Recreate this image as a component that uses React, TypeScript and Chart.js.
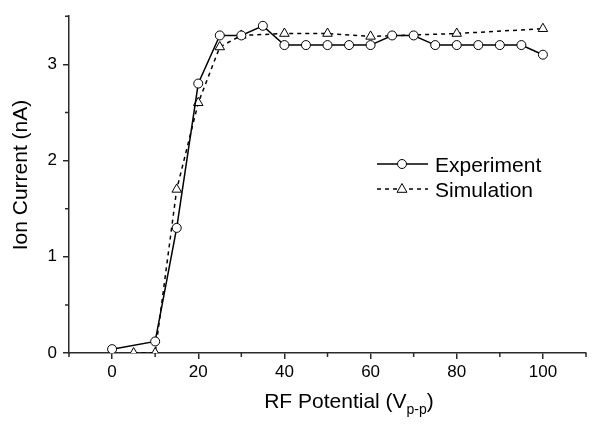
import React, { useEffect, useRef } from "react";
import { Chart, registerables } from "chart.js";

Chart.register(...registerables);

const expX = [0, 10, 15, 20, 25, 30, 35, 40, 45, 50, 55, 60, 65, 70, 75, 80, 85, 90, 95, 100];
const expY = [0.04, 0.12, 1.3, 2.8, 3.3, 3.3, 3.4, 3.2, 3.2, 3.2, 3.2, 3.2, 3.3, 3.3, 3.2, 3.2, 3.2, 3.2, 3.2, 3.1];
const simX = [5, 10, 15, 20, 25, 30, 40, 50, 60, 80, 100];
const simY = [0, 0, 1.7, 2.6, 3.18, 3.3, 3.32, 3.32, 3.29, 3.32, 3.37];
const xMajorTicks = [0, 20, 40, 60, 80, 100];
const yMajorTicks = [0, 1, 2, 3];
const xMinorTicks = [-10, 10, 30, 50, 70, 90, 110];
const yMinorTicks = [0.5, 1.5, 2.5, 3.5];
const seriesNames = ["Experiment", "Simulation"];
const xTitleMain = "RF Potential (V";
const xTitleSub = "p-p";
const xTitleEnd = ")";
const yTitle = "Ion Current (nA)";

const FONT = "'Liberation Sans', Arial, sans-serif";
const AXIS = "#2a2a2a";

const decorPlugin = {
  id: "decor",
  afterDraw(chart: any) {
    const ctx = chart.ctx;
    const xs = chart.scales.x;
    const ys = chart.scales.y;
    const area = chart.chartArea;
    ctx.save();
    // minor ticks
    ctx.strokeStyle = AXIS;
    ctx.lineWidth = 1.5;
    ctx.beginPath();
    xMinorTicks.forEach((v) => {
      const px = xs.getPixelForValue(v);
      ctx.moveTo(px, area.bottom);
      ctx.lineTo(px, area.bottom + 4);
    });
    yMinorTicks.forEach((v) => {
      const py = ys.getPixelForValue(v);
      ctx.moveTo(area.left, py);
      ctx.lineTo(area.left - 4, py);
    });
    ctx.stroke();

    // y title
    ctx.fillStyle = "#000";
    ctx.font = `21px ${FONT}`;
    ctx.save();
    ctx.translate(27, 175);
    ctx.rotate(-Math.PI / 2);
    ctx.textAlign = "center";
    ctx.textBaseline = "alphabetic";
    ctx.fillText(yTitle, 0, 0);
    ctx.restore();

    // x title with subscript
    ctx.textAlign = "left";
    ctx.textBaseline = "alphabetic";
    ctx.font = `21px ${FONT}`;
    const w1 = ctx.measureText(xTitleMain).width;
    const w3 = ctx.measureText(xTitleEnd).width;
    ctx.font = `14px ${FONT}`;
    const w2 = ctx.measureText(xTitleSub).width;
    const total = w1 + w2 + w3;
    let sx = 349 - total / 2;
    const base = 408;
    ctx.font = `21px ${FONT}`;
    ctx.fillText(xTitleMain, sx, base);
    sx += w1;
    ctx.font = `14px ${FONT}`;
    ctx.fillText(xTitleSub, sx, base + 6);
    sx += w2;
    ctx.font = `21px ${FONT}`;
    ctx.fillText(xTitleEnd, sx, base);

    // legend
    const lx0 = 377, lx1 = 428, mx = 402;
    const rows = [164, 189];
    ctx.strokeStyle = "#000";
    ctx.lineWidth = 1.5;
    ctx.setLineDash([]);
    ctx.beginPath();
    ctx.moveTo(lx0, rows[0]);
    ctx.lineTo(lx1, rows[0]);
    ctx.stroke();
    ctx.lineWidth = 1;
    ctx.fillStyle = "#fff";
    ctx.beginPath();
    ctx.arc(mx, rows[0], 4.5, 0, Math.PI * 2);
    ctx.fill();
    ctx.stroke();
    ctx.lineWidth = 1.5;
    ctx.setLineDash([4, 4]);
    ctx.beginPath();
    ctx.moveTo(lx0, rows[1]);
    ctx.lineTo(lx1, rows[1]);
    ctx.stroke();
    ctx.setLineDash([]);
    ctx.lineWidth = 1;
    ctx.fillStyle = "#fff";
    const r = 5.5;
    ctx.beginPath();
    ctx.moveTo(mx, rows[1] - r);
    ctx.lineTo(mx + r * 0.9, rows[1] + r * 0.6);
    ctx.lineTo(mx - r * 0.9, rows[1] + r * 0.6);
    ctx.closePath();
    ctx.fill();
    ctx.stroke();
    ctx.fillStyle = "#000";
    ctx.font = `21px ${FONT}`;
    ctx.textBaseline = "alphabetic";
    ctx.fillText(seriesNames[0], 435, 172);
    ctx.fillText(seriesNames[1], 435, 197);
    ctx.restore();
  },
};

export default function App() {
  const ref = useRef<HTMLCanvasElement | null>(null);
  useEffect(() => {
    document.body.style.margin = "0";
    if (!ref.current) return;
    const chart = new Chart(ref.current, {
      type: "line",
      data: {
        datasets: [
          {
            label: seriesNames[0],
            data: expX.map((x, i) => ({ x, y: expY[i] })),
            borderColor: "#000",
            borderWidth: 1.5,
            pointStyle: "circle",
            pointRadius: 4.5,
            pointBorderWidth: 1,
            pointBackgroundColor: "#fff",
            pointBorderColor: "#000",
            tension: 0,
            fill: false,
          },
          {
            label: seriesNames[1],
            data: simX.map((x, i) => ({ x, y: simY[i] })),
            borderColor: "#000",
            borderWidth: 1.5,
            borderDash: [4, 4],
            pointStyle: "triangle",
            pointRadius: 5.5,
            pointBorderWidth: 1,
            pointBackgroundColor: "#fff",
            pointBorderColor: "#000",
            tension: 0,
            fill: false,
          },
        ],
      },
      options: {
        animation: false,
        responsive: true,
        maintainAspectRatio: false,
        layout: { padding: { top: 5, right: 14, left: 0, bottom: 0 } },
        plugins: {
          legend: { display: false },
          tooltip: { enabled: false },
        },
        scales: {
          x: {
            type: "linear",
            min: -10,
            max: 110,
            afterBuildTicks: (s: any) => {
              s.ticks = xMajorTicks.map((v) => ({ value: v }));
            },
            afterFit: (s: any) => {
              s.height = 73;
            },
            border: { display: true, color: AXIS, width: 1.5 },
            grid: {
              display: true,
              drawOnChartArea: false,
              drawTicks: true,
              tickLength: 6,
              color: AXIS,
              lineWidth: 1.5,
            },
            ticks: {
              color: "#000",
              padding: 3,
              maxRotation: 0,
              autoSkip: false,
              font: { family: FONT, size: 17 },
            },
          },
          y: {
            type: "linear",
            min: 0,
            max: 3.5,
            afterBuildTicks: (s: any) => {
              s.ticks = yMajorTicks.map((v) => ({ value: v }));
            },
            afterFit: (s: any) => {
              s.width = 69;
            },
            border: { display: true, color: AXIS, width: 1.5 },
            grid: {
              display: true,
              drawOnChartArea: false,
              drawTicks: true,
              tickLength: 6,
              color: AXIS,
              lineWidth: 1.5,
            },
            ticks: {
              color: "#000",
              padding: 6,
              autoSkip: false,
              font: { family: FONT, size: 17 },
            },
          },
        },
      },
      plugins: [decorPlugin],
    });
    return () => chart.destroy();
  }, []);
  return (
    <div style={{ width: 600, height: 426, position: "relative" }}>
      <canvas ref={ref} />
    </div>
  );
}
